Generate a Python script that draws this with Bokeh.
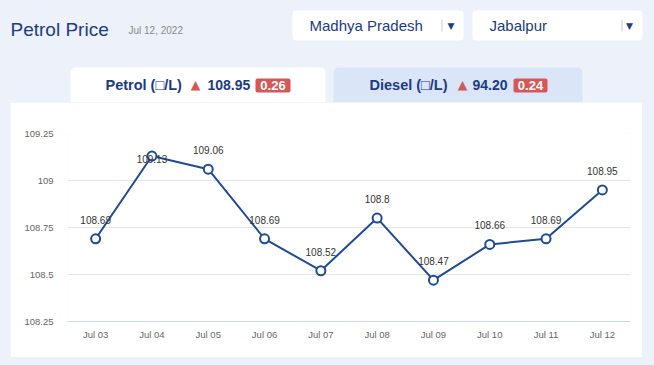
from bokeh.plotting import figure
from bokeh.models import (Range1d, FixedTicker, BoxAnnotation, Label,
                          ColumnDataSource, GlobalInlineStyleSheet)
from bokeh.core.properties import value
from bokeh.embed import file_html
from bokeh.resources import INLINE

# ---------------- data ----------------
dates = ["Jul 03", "Jul 04", "Jul 05", "Jul 06", "Jul 07",
         "Jul 08", "Jul 09", "Jul 10", "Jul 11", "Jul 12"]
petrol = [108.69, 109.13, 109.06, 108.69, 108.52,
          108.80, 108.47, 108.66, 108.69, 108.95]
yticks = [108.25, 108.5, 108.75, 109.0, 109.25]
ytick_labels = ["108.25", "108.5", "108.75", "109", "109.25"]

title_text = "Petrol Price"
date_text = "Jul 12, 2022"
state_name = "Madhya Pradesh"
city_name = "Jabalpur"
petrol_tab = "Petrol (\u25a1/L)"
petrol_now = "108.95"
petrol_chg = "0.26"
diesel_tab = "Diesel (\u25a1/L)"
diesel_now = "94.20"
diesel_chg = "0.24"

# ---------------- style ----------------
FONT = "Liberation Sans"
SYM = "DejaVu Sans"
BG = "#edf1fa"
TAB2 = "#dbe5f8"
NAVY = "#1b3b82"
LINE = "#1f4a98"
RED = "#d65757"

# ---------------- header figure (pixel coordinates) ----------------
HW, HH = 654, 102
hdr = figure(width=HW, height=HH, x_range=Range1d(0, HW), y_range=Range1d(HH, 0),
             output_backend="svg", toolbar_location=None,
             x_axis_location=None, y_axis_location=None,
             min_border=0)
hdr.grid.visible = False
hdr.outline_line_color = None
hdr.background_fill_color = BG
hdr.border_fill_color = BG
hdr.stylesheets = [GlobalInlineStyleSheet(css="body { background: %s; }" % BG)]


def box(l, r, t, b, color, radius=0):
    hdr.add_layout(BoxAnnotation(left=l, right=r, top=t, bottom=b,
                                 fill_color=color, fill_alpha=1,
                                 line_color=None, border_radius=radius))


def label(x, y, text, size, color, style="normal", align="left", font=FONT):
    hdr.add_layout(Label(x=x, y=y, text=text, text_font=font,
                         text_font_size=size, text_color=color,
                         text_font_style=style, text_align=align,
                         text_baseline="middle"))


# tabs
box(70, 325, 67, HH, "white", (5, 5, 0, 0))
box(333, 582, 67, HH, TAB2, (5, 5, 0, 0))

# dropdowns
box(292, 463, 10, 40, "white", 4)
box(472, 642, 10, 40, "white", 4)
box(441, 442, 19, 31, "#cccccc")
box(621, 622, 19, 31, "#cccccc")

label(10, 29, title_text, "19px", NAVY)
label(128, 30, date_text, "10px", "#8a8a8a")
label(309, 25, state_name, "15px", NAVY)
label(450.5, 25, "\u25bc", "9px", NAVY, align="center", font=SYM)
label(489, 25, city_name, "15px", NAVY)
label(629, 25, "\u25bc", "9px", NAVY, align="center", font=SYM)

# petrol tab
label(105, 84, petrol_tab, "14.5px", NAVY, "bold")
label(195, 83.5, "\u25b2", "12.5px", RED, align="center", font=SYM)
label(207, 84, petrol_now, "14px", NAVY, "bold")
box(255, 290, 78, 92, RED, 2)
label(272.5, 85, petrol_chg, "13px", "white", "bold", "center")

# diesel tab
label(369, 84, diesel_tab, "14.5px", NAVY, "bold")
label(462, 83.5, "\u25b2", "12.5px", RED, align="center", font=SYM)
label(472, 84, diesel_now, "14px", NAVY, "bold")
box(513, 547, 78, 92, RED, 2)
label(530, 85, diesel_chg, "13px", "white", "bold", "center")

# ---------------- main chart ----------------
W, H = 632, 255
FL, FR, FT, FB = 57, 620, 31, 219

xidx = list(range(len(dates)))

p = figure(width=W, height=H, x_range=Range1d(-0.5, len(dates) - 0.5),
           y_range=Range1d(108.25, 109.25),
           output_backend="svg", toolbar_location=None,
           min_border_left=FL, min_border_right=W - FR,
           min_border_top=FT, min_border_bottom=H - FB)
p.margin = (0, 0, 0, 10)
p.border_fill_color = "white"
p.background_fill_color = "white"
p.outline_line_color = None

p.xaxis.ticker = FixedTicker(ticks=xidx)
p.xaxis.major_label_overrides = dict(zip(xidx, dates))
p.xaxis.axis_line_color = "#ccd6eb"
p.xaxis.major_tick_line_color = None
p.xaxis.minor_tick_line_color = None
p.xaxis.major_label_text_font = FONT
p.xaxis.major_label_text_font_size = "9.5px"
p.xaxis.major_label_text_color = "#666666"
p.xaxis.major_label_standoff = 1
p.xgrid.grid_line_color = None

p.yaxis.ticker = FixedTicker(ticks=yticks)
p.yaxis.major_label_overrides = dict(zip(yticks, ytick_labels))
p.yaxis.axis_line_color = None
p.yaxis.major_tick_line_color = None
p.yaxis.minor_tick_line_color = None
p.yaxis.major_label_text_font = FONT
p.yaxis.major_label_text_font_size = "9.5px"
p.yaxis.major_label_text_color = "#666666"
p.yaxis.major_label_standoff = 8
p.ygrid.grid_line_color = "#e6e6e6"

src = ColumnDataSource(dict(
    x=xidx, y=petrol,
    lbl=[f"{v:g}" for v in petrol],
    dy=[3 if v > 109.1 else -19 for v in petrol],
))
p.line("x", "y", source=src, line_color=LINE, line_width=2)
p.scatter("x", "y", source=src, size=9, fill_color="white",
          line_color=LINE, line_width=2)
p.text("x", "y", text="lbl", source=src, y_offset="dy",
       text_font=value(FONT), text_font_size="10px", text_color="#333333",
       text_align="center", text_baseline="alphabetic")

open("out.html", "w").write(file_html([hdr, p], INLINE))
